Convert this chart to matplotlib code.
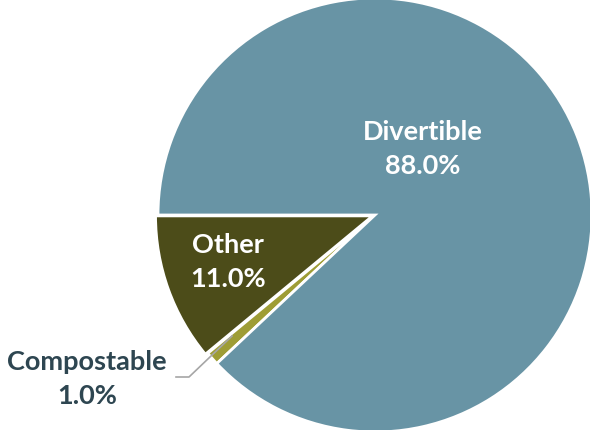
import matplotlib
matplotlib.use('Agg')
import numpy as np
import matplotlib.pyplot as plt

labels = ['Other', 'Compostable', 'Divertible']
values = [11.0, 1.0, 88.0]
colors = ['#4c4c19', '#9e9d35', '#6894a5']

W, H = 590, 431
cx, cy, R = 375, 216, 217


def px(x, y):
    # pixel position -> data coords (pie radius = 1)
    return (x - cx) / R, (cy - y) / R


fig = plt.figure(figsize=(W / 100, H / 100), dpi=100)
ax = fig.add_axes([0, 0, 1, 1])
ax.pie(values, colors=colors, startangle=180, counterclock=True,
       explode=[0.012, 0, 0],
       wedgeprops=dict(edgecolor='white', linewidth=2))
ax.set_xlim(-cx / R, (W - cx) / R)
ax.set_ylim(-(H - cy) / R, cy / R)
ax.set_aspect('equal')
ax.axis('off')

font = dict(family=['Lato', 'DejaVu Sans'], fontweight='bold', fontsize=19.5,
            ha='center', va='center', linespacing=1.5)

tx, ty = px(423, 149)
ax.text(tx, ty, '%s\n%.1f%%' % (labels[2], values[2]), color='white', **font)
tx, ty = px(228, 262)
ax.text(tx, ty, '%s\n%.1f%%' % (labels[0], values[0]), color='white', **font)
tx, ty = px(87, 379)
ax.text(tx, ty, '%s\n%.1f%%' % (labels[1], values[1]), color='#2e4651', **font)

# leader line for Compostable
pts = [px(176, 378), px(189, 378), px(232, 337)]
ax.plot([p[0] for p in pts], [p[1] for p in pts], color='#a6a6a6', lw=1.2)

plt.savefig('out.png', dpi=100)
